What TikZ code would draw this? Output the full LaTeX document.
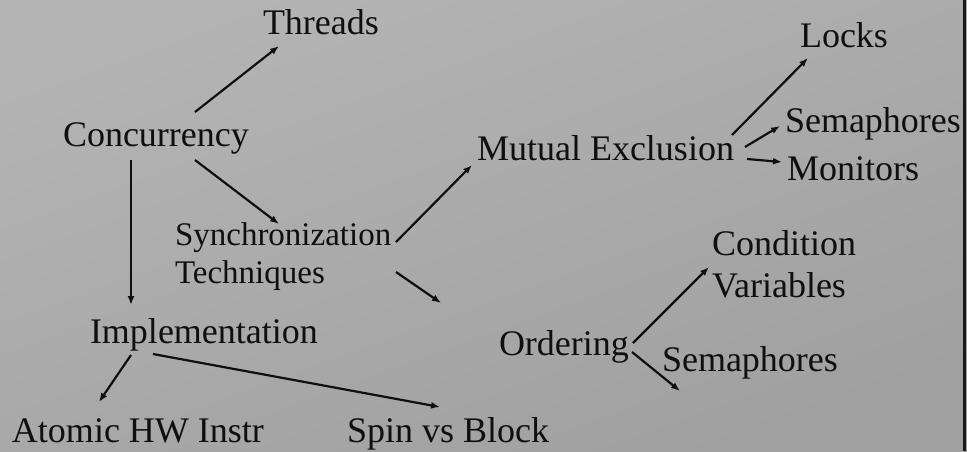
\documentclass[tikz,border=0pt]{standalone}
\usepackage{fontspec}
\setmainfont{Liberation Serif}
\usetikzlibrary{arrows.meta}
\definecolor{bgtop}{RGB}{180,180,180}
\definecolor{bgbot}{RGB}{160,160,160}
\definecolor{ink}{RGB}{15,15,15}
\tikzset{
  lbl/.style={anchor=base west, inner sep=0pt, outer sep=0pt, text=ink, font=\fontsize{36}{42}\selectfont},
  lblsmall/.style={lbl, align=left, font=\fontsize{33}{38}\selectfont},
  lbltwo/.style={lbl, align=left, font=\fontsize{36}{42}\selectfont},
  arr/.style={draw=ink, line width=2.2pt, -{Latex[length=9pt,width=7pt]}}
}
\begin{document}
\begin{tikzpicture}[x=1pt,y=-1pt]
  \useasboundingbox (0,0) rectangle (967,451);
  \shade[top color=bgtop, bottom color=bgbot, shading angle=20] (0,0) rectangle (967,451);
  \fill[black!90] (963,0) rectangle (966,451);

  \node[lbl] (thr) at (263,34) {Threads};
  \node[lbl] (conc) at (63,146) {Concurrency};
  \node[lblsmall] (sync) at (175,283) {Synchronization\\Techniques};
  \node[lbl] (mutex) at (477,160) {Mutual Exclusion};
  \node[lbl] (locks) at (800,47) {Locks};
  \node[lbl] (sem1) at (785,132) {Semaphores};
  \node[lbl] (mon) at (787,180) {Monitors};
  \node[lbltwo] (cond) at (712,297) {Condition\\Variables};
  \node[lbl] (ord) at (499,355) {Ordering};
  \node[lbl] (sem2) at (662,371) {Semaphores};
  \node[lbl] (impl) at (90,343) {Implementation};
  \node[lbl] (atom) at (12,442) {Atomic HW Instr};
  \node[lbl] (spin) at (347,442) {Spin vs Block};

  \draw[arr] ([shift={(132,-34)}]conc.base west) -- ([shift={(16,12)}]thr.base west);
  \draw[arr] ([shift={(132,14)}]conc.base west) -- ([shift={(104,-59)}]sync.base west);
  \draw[arr] ([shift={(68,14)}]conc.base west) -- ([shift={(41,-38)}]impl.base west);
  \draw[arr] ([shift={(221,-41)}]sync.base west) -- ([shift={(-5,5)}]mutex.base west);
  \draw[arr] ([shift={(221,-11)}]sync.base west) -- ([shift={(-58,-52)}]ord.base west);
  \draw[arr] ([shift={(255,-25)}]mutex.base west) -- ([shift={(8,11)}]locks.base west);
  \draw[arr] ([shift={(268,-13)}]mutex.base west) -- ([shift={(-5,-6)}]sem1.base west);
  \draw[arr] ([shift={(270,-1)}]mutex.base west) -- ([shift={(-5,-18)}]mon.base west);
  \draw[arr] ([shift={(134,-12)}]ord.base west) -- ([shift={(-3,-30)}]cond.base west);
  \draw[arr] ([shift={(133,-3)}]ord.base west) -- ([shift={(18,20)}]sem2.base west);
  \draw[arr] ([shift={(41,12)}]impl.base west) -- ([shift={(87,-40)}]atom.base west);
  \draw[arr] ([shift={(63,11)}]impl.base west) -- ([shift={(93,-35)}]spin.base west);
\end{tikzpicture}
\end{document}
